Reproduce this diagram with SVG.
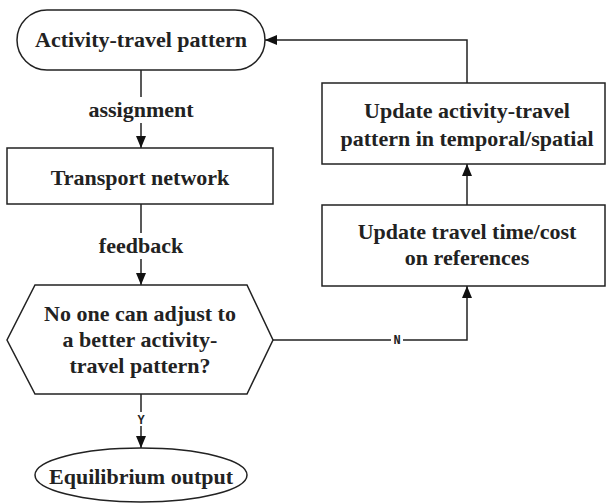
<svg xmlns="http://www.w3.org/2000/svg" width="606" height="504" viewBox="0 0 606 504">
<defs>
<marker id="ah" markerWidth="12" markerHeight="12" viewBox="0 0 12 12" refX="12" refY="6" orient="auto" markerUnits="userSpaceOnUse">
<path d="M0,1 L12,6 L0,11 Z" fill="#111"/>
</marker>
<style>
.n{fill:#fff;stroke:#222;stroke-width:1.5}
.t{font-family:'Liberation Serif','Times New Roman',serif;font-weight:bold;font-size:22px;fill:#222;text-anchor:middle}
.c{fill:none;stroke:#222;stroke-width:1.5;marker-end:url(#ah)}
.bg{fill:#fff}
.m{font-family:'Liberation Mono','Courier New',monospace;font-weight:bold;font-size:12px;fill:#222;text-anchor:middle}
</style>
</defs>
<g id="connectors">
<path class="c" d="M141,70 V148"/>
<path class="c" d="M141,204 V285"/>
<path class="c" d="M141,394 V448"/>
<path class="c" d="M273,340 H467 V286"/>
<path class="c" d="M467,205 V164"/>
<path class="c" d="M467,83 V40 H265"/>
<rect class="bg" x="84" y="97" width="114" height="26"/>
<text class="t" x="141" y="117">assignment</text>
<rect class="bg" x="94" y="233" width="94" height="26"/>
<text class="t" x="141" y="253">feedback</text>
<rect class="bg" x="135" y="412" width="12" height="14"/>
<text class="m" x="141" y="424">Y</text>
<rect class="bg" x="391" y="333" width="12" height="14"/>
<text class="m" x="397" y="344">N</text>
</g>
<g id="start">
<rect class="n" x="17" y="10" width="248" height="60" rx="30" ry="30"/>
<text class="t" x="141" y="47">Activity-travel pattern</text>
</g>
<g id="transport">
<rect class="n" x="7" y="148" width="266" height="56"/>
<text class="t" x="140" y="185">Transport network</text>
</g>
<g id="decision">
<polygon class="n" points="35,285 247,285 273,340 247,394 35,394 7,340"/>
<text class="t" x="140" y="321">No one can adjust to</text>
<text class="t" x="140" y="347">a better activity-</text>
<text class="t" x="140" y="373">travel pattern?</text>
</g>
<g id="equilibrium">
<ellipse class="n" cx="141" cy="475" rx="106" ry="27"/>
<text class="t" x="141" y="484">Equilibrium output</text>
</g>
<g id="update-time">
<rect class="n" x="322" y="205" width="283" height="81"/>
<text class="t" x="467" y="239">Update travel time/cost</text>
<text class="t" x="467" y="265">on references</text>
</g>
<g id="update-pattern">
<rect class="n" x="322" y="83" width="283" height="81"/>
<text class="t" x="467" y="118">Update activity-travel</text>
<text class="t" x="467" y="146">pattern in temporal/spatial</text>
</g>
</svg>
